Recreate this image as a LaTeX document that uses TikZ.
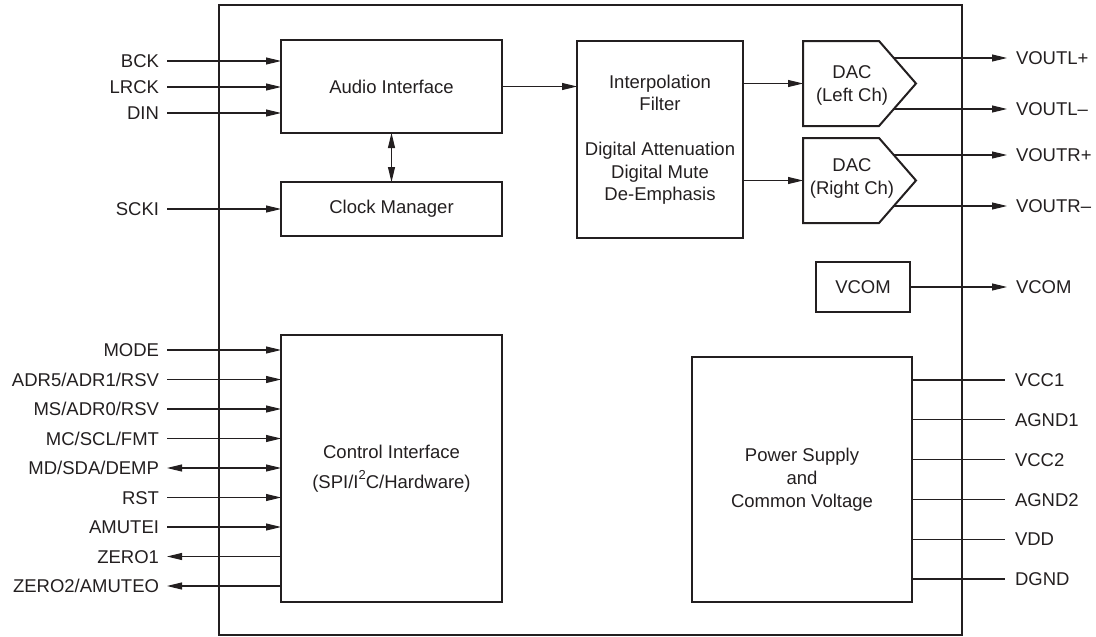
\documentclass[tikz,border=0pt]{standalone}
\usepackage{fontspec}
\setmainfont{Liberation Sans}
\usetikzlibrary{arrows.meta,calc}
\definecolor{ink}{RGB}{35,31,32}
\begin{document}
\begin{tikzpicture}[x=1pt,y=-1pt,
  every node/.style={text=ink, font=\fontsize{18.5}{23}\selectfont},
  blk/.style={draw=ink, line width=2pt, outer sep=0pt, inner sep=0pt, align=center},
  shp/.style={draw=ink, line width=2pt, line join=miter},
  frame/.style={draw=ink, line width=2.3pt, outer sep=0pt, inner sep=0pt},
  wire/.style={draw=ink, line width=1.1pt},
  arr/.style={wire, -{Triangle[length=15pt,width=7pt]}},
  barr/.style={wire, {Triangle[length=15pt,width=7pt]}-{Triangle[length=15pt,width=7pt]}},
  rarr/.style={wire, {Triangle[length=15pt,width=7pt]}-},
  lbl/.style={outer sep=0pt, inner ysep=0pt, text height=13.2pt, text depth=0pt},
  lft/.style={lbl, anchor=east, inner xsep=8pt},
  rgt/.style={lbl, anchor=west, inner xsep=9pt},
  pwr/.style={lbl, anchor=west, inner xsep=10pt},
]
\useasboundingbox (0,0) rectangle (1096,637);

% chip outline
\node[frame, minimum width=743, minimum height=630] (chip) at (590.5,320) {};

% blocks
\node[blk, minimum width=221, minimum height=93] (audio) at (391.5,86.5) {Audio Interface};
\node[blk, minimum width=221, minimum height=54] (clk) at (391.5,209) {Clock Manager};
\node[blk, minimum width=221, minimum height=267] (ctrl) at (391.5,468.5)
  {Control Interface\\[7pt](SPI/I\raisebox{8.5pt}{\fontsize{13}{13}\selectfont 2}C/Hardware)};
\node[blk, minimum width=166, minimum height=197, font=\fontsize{18.5}{22.5}\selectfont] (interp) at (660,139.5)
  {Interpolation\\Filter\\[22.5pt]Digital Attenuation\\Digital Mute\\De-Emphasis};
\node[blk, minimum width=94, minimum height=50] (vcom) at (863,287) {VCOM};
\node[blk, minimum width=220, minimum height=245] (psu) at (802,479.5) {Power Supply\\and\\Common Voltage};

% DACs
\node[minimum width=76, minimum height=85, outer sep=0pt, inner sep=0pt] (dacL) at (841,83.5) {};
\draw[shp] (dacL.north west) -- (dacL.north east) -- ++(37,42.5) -- (dacL.south east) -- (dacL.south west) -- cycle;
\node[align=center] (dacLt) at (852,85.5) {DAC\\(Left Ch)};
\node[minimum width=76, minimum height=85, outer sep=0pt, inner sep=0pt] (dacR) at (841,180.5) {};
\draw[shp] (dacR.north west) -- (dacR.north east) -- ++(37,42.5) -- (dacR.south east) -- (dacR.south west) -- cycle;
\node[align=center] (dacRt) at (852,178.5) {DAC\\(Right Ch)};

% internal connections
\draw[arr] (audio.east) -- (audio.east -| interp.west);
\draw[barr] (audio.south) -- (clk.north);
\draw[arr] (dacL.west -| interp.east) -- (dacL.west);
\draw[arr] (dacR.west -| interp.east) -- (dacR.west);

% audio inputs
\node[lft] (BCK) at (167,61) {BCK};
\node[lft] (LRCK) at (167,87) {LRCK};
\node[lft] (DIN) at (167,113) {DIN};
\node[lft] (SCKI) at (167,209) {SCKI};
\draw[arr] (BCK.east) -- (BCK.east -| audio.west);
\draw[arr] (LRCK.east) -- (LRCK.east -| audio.west);
\draw[arr] (DIN.east) -- (DIN.east -| audio.west);
\draw[arr] (SCKI.east) -- (SCKI.east -| clk.west);

% control pins
\node[lft] (MODE) at (167,350) {MODE};
\node[lft] (ADR) at (167,379.5) {ADR5/ADR1/RSV};
\node[lft] (MS) at (167,409) {MS/ADR0/RSV};
\node[lft] (MC) at (167,438.5) {MC/SCL/FMT};
\node[lft] (MD) at (167,468) {MD/SDA/DEMP};
\node[lft] (RST) at (167,497.5) {RST};
\node[lft] (AMI) at (167,527) {AMUTEI};
\node[lft] (ZA) at (167,556.5) {ZERO1};
\node[lft] (ZB) at (167,586) {ZERO2/AMUTEO};
\draw[arr] (MODE.east) -- (MODE.east -| ctrl.west);
\draw[arr] (ADR.east) -- (ADR.east -| ctrl.west);
\draw[arr] (MS.east) -- (MS.east -| ctrl.west);
\draw[arr] (MC.east) -- (MC.east -| ctrl.west);
\draw[barr] (MD.east) -- (MD.east -| ctrl.west);
\draw[arr] (RST.east) -- (RST.east -| ctrl.west);
\draw[arr] (AMI.east) -- (AMI.east -| ctrl.west);
\draw[rarr] (ZA.east) -- (ZA.east -| ctrl.west);
\draw[rarr] (ZB.east) -- (ZB.east -| ctrl.west);

% analog outputs
\coordinate (xout) at (1007,0);
\coordinate (oLp) at ($(dacL.north east)+(14.8,17)$);
\coordinate (oLm) at ($(dacL.south east)+(14.8,-17)$);
\coordinate (oRp) at ($(dacR.north east)+(14.8,17)$);
\coordinate (oRm) at ($(dacR.south east)+(14.8,-17)$);
\node[rgt] (VLp) at (oLp -| xout) {VOUTL+};
\node[rgt] (VLm) at (oLm -| xout) {VOUTL–};
\node[rgt] (VRp) at (oRp -| xout) {VOUTR+};
\node[rgt] (VRm) at (oRm -| xout) {VOUTR–};
\node[rgt] (VCOMo) at (vcom.east -| xout) {VCOM};
\draw[arr] (oLp) -- (VLp.west);
\draw[arr] (oLm) -- (VLm.west);
\draw[arr] (oRp) -- (VRp.west);
\draw[arr] (oRm) -- (VRm.west);
\draw[arr] (vcom.east) -- (VCOMo.west);

% power pins
\foreach \n/\y in {VCC1/380, AGND1/419.8, VCC2/459.6, AGND2/499.4, VDD/539.2, DGND/579} {
  \node[pwr] (p\n) at (1005,\y) {\n};
  \draw[wire] (p\n.west -| psu.east) -- (p\n.west);
}
\end{tikzpicture}
\end{document}
